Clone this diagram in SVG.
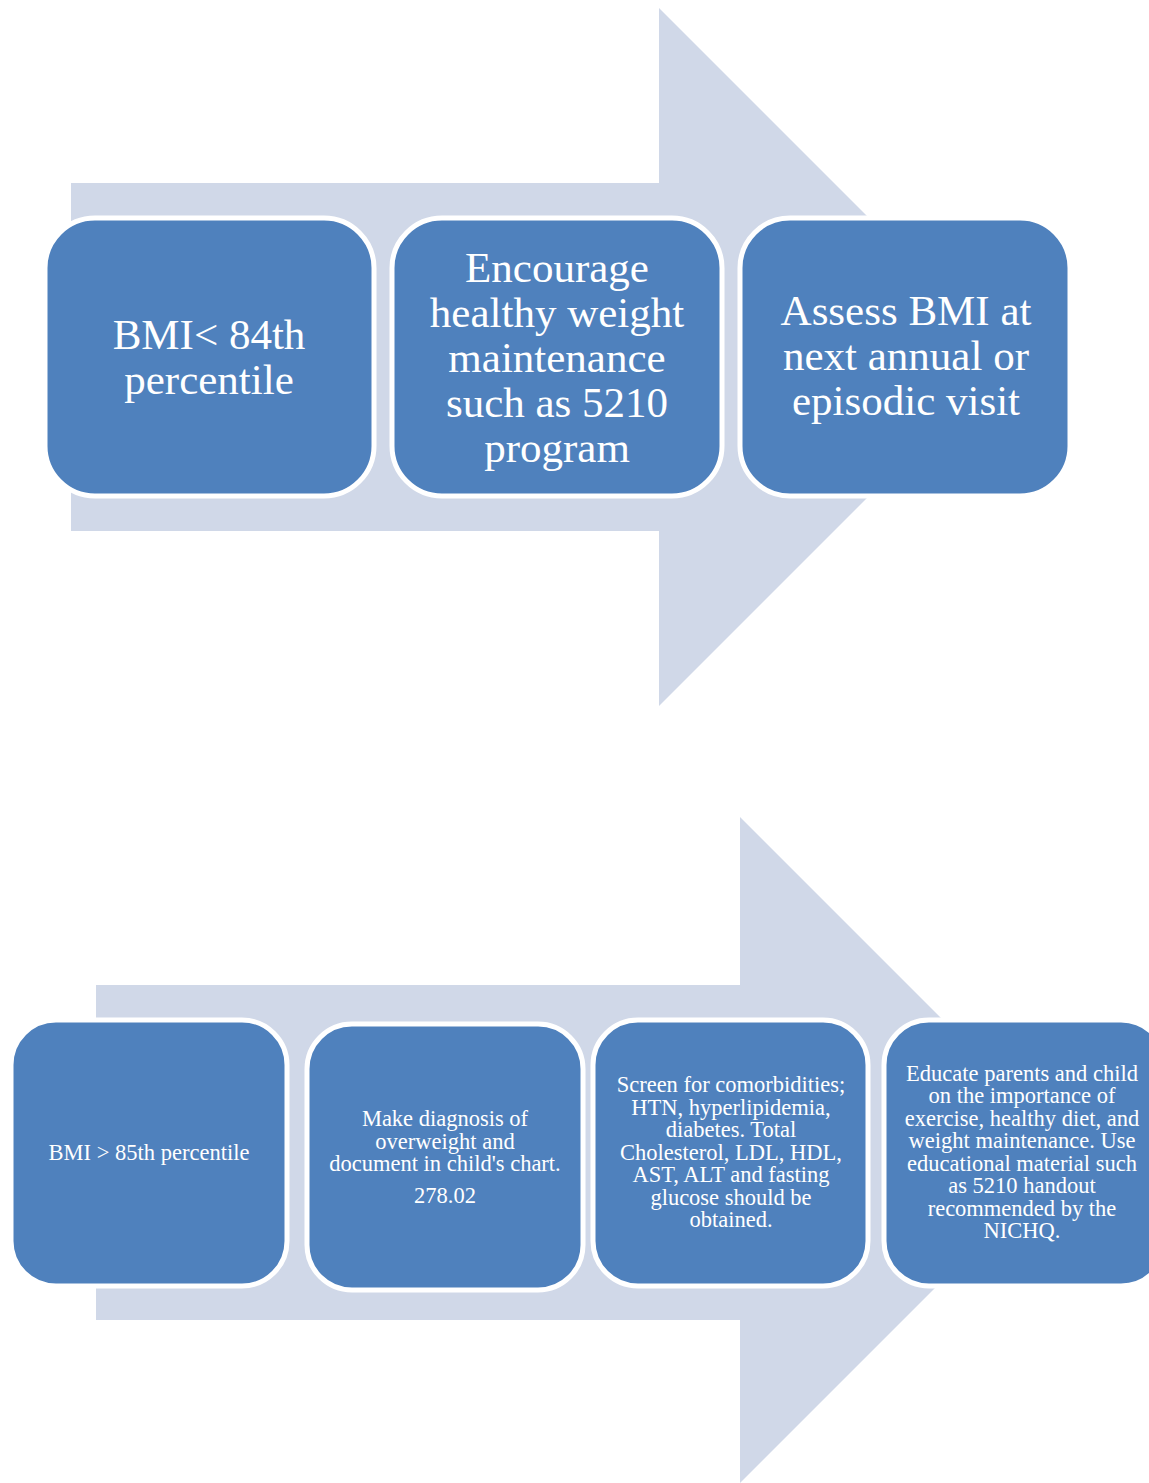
<svg xmlns="http://www.w3.org/2000/svg" width="1149" height="1483" viewBox="0 0 1149 1483">
<style>
.arrow{fill:#D0D8E8}
.box{fill:#4F81BD;stroke:#FFFFFF;stroke-width:5}
.big{font-family:"Liberation Serif",serif;font-size:43px;fill:#FFFFFF;text-anchor:middle}
.small{font-family:"Liberation Serif",serif;font-size:22.5px;fill:#FFFFFF;text-anchor:middle}
</style>
<rect width="1149" height="1483" fill="#FFFFFF"/>
<g id="connectors">
<polygon class="arrow" points="71,183 659,183 659,8 1008,357 659,706 659,531 71,531"/>
<polygon class="arrow" points="96,985 740,985 740,817 1073,1150 740,1483 740,1320 96,1320"/>
</g>
<g id="n1">
<rect class="box" x="45" y="218" width="329" height="278" rx="50"/>
<text class="big" x="209" y="349">BMI&lt; 84th</text>
<text class="big" x="209" y="394">percentile</text>
</g>
<g id="n2">
<rect class="box" x="392" y="218" width="330" height="278" rx="50"/>
<text class="big" x="557" y="282">Encourage</text>
<text class="big" x="557" y="327">healthy weight</text>
<text class="big" x="557" y="372">maintenance</text>
<text class="big" x="557" y="417">such as 5210</text>
<text class="big" x="557" y="462">program</text>
</g>
<g id="n3">
<rect class="box" x="740" y="218" width="330" height="278" rx="50"/>
<text class="big" x="906" y="325">Assess BMI at</text>
<text class="big" x="906" y="370">next annual or</text>
<text class="big" x="906" y="415">episodic visit</text>
</g>
<g id="n4">
<rect class="box" x="11" y="1020" width="276" height="266" rx="45"/>
<text class="small" x="149" y="1160">BMI &gt; 85th percentile</text>
</g>
<g id="n5">
<rect class="box" x="307" y="1024" width="276" height="266" rx="45"/>
<text class="small" x="445" y="1126">Make diagnosis of</text>
<text class="small" x="445" y="1149">overweight and</text>
<text class="small" x="445" y="1171">document in child's chart.</text>
<text class="small" x="445" y="1203">278.02</text>
</g>
<g id="n6">
<rect class="box" x="593" y="1020" width="275" height="266" rx="45"/>
<text class="small" x="731" y="1092">Screen for comorbidities;</text>
<text class="small" x="731" y="1115">HTN, hyperlipidemia,</text>
<text class="small" x="731" y="1137">diabetes. Total</text>
<text class="small" x="731" y="1160">Cholesterol, LDL, HDL,</text>
<text class="small" x="731" y="1182">AST, ALT and fasting</text>
<text class="small" x="731" y="1205">glucose should be</text>
<text class="small" x="731" y="1227">obtained.</text>
</g>
<g id="n7">
<rect class="box" x="884" y="1020" width="282" height="266" rx="45"/>
<text class="small" x="1022" y="1081">Educate parents and child</text>
<text class="small" x="1022" y="1103">on the importance of</text>
<text class="small" x="1022" y="1126">exercise, healthy diet, and</text>
<text class="small" x="1022" y="1148">weight maintenance. Use</text>
<text class="small" x="1022" y="1171">educational material such</text>
<text class="small" x="1022" y="1193">as 5210 handout</text>
<text class="small" x="1022" y="1216">recommended by the</text>
<text class="small" x="1022" y="1238">NICHQ.</text>
</g>
</svg>
